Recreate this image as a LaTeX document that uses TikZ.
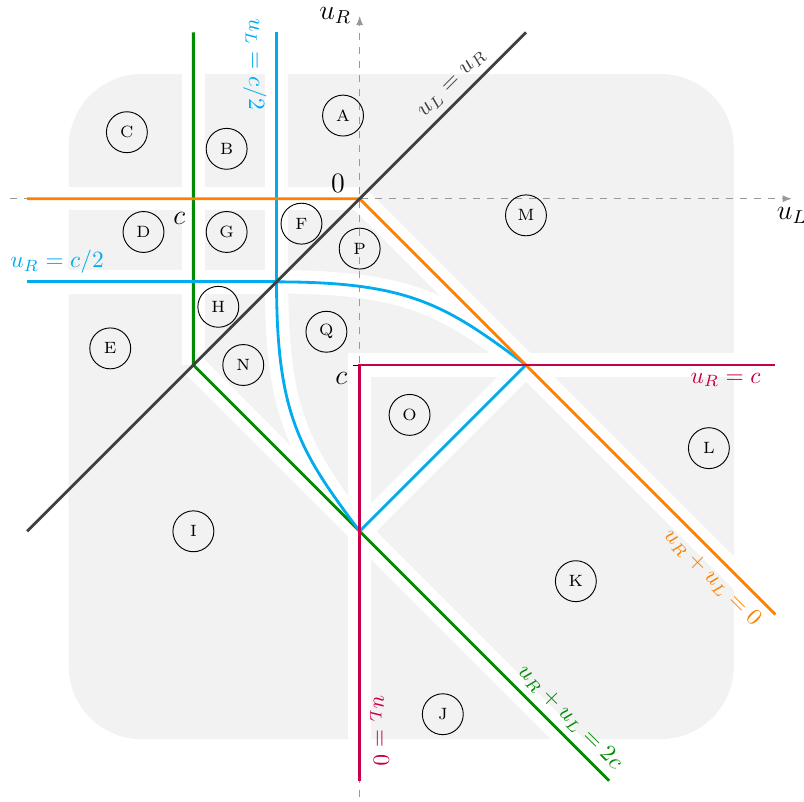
\documentclass[tikz,border=0pt]{standalone}
\usetikzlibrary{arrows.meta}

\definecolor{lineblue}{RGB}{0,172,238}
\definecolor{linegreen}{RGB}{0,140,0}
\definecolor{lineorange}{RGB}{255,128,0}
\definecolor{linemagenta}{RGB}{200,0,75}

\begin{document}
\begin{tikzpicture}[x=2.5cm, y=2.5cm]
        \tikzstyle{region_node} = [shape = circle, draw = black, thin, minimum size=17.5pt, inner sep=0pt, font=\scriptsize]
        \tikzstyle{white_gap} = [draw = white, line width=10pt]
        \tikzstyle{bound_line} = [very thick]
        \tikzstyle{axis_line} = [black!40, dashed, semithick, -{Latex[length=4pt, width=3pt]}]

        \useasboundingbox (-2.163, -3.627) rectangle (2.672, 1.195);

        \fill[gray!10, rounded corners=1.1cm] (-1.75, -3.25) rectangle (2.25, 0.75);

        \coordinate (o) at (0, 0);
        \coordinate (h) at (-0.5, -0.5);
        \coordinate (g) at (-1, -1);
        \coordinate (m) at (0, -1);
        \coordinate (r) at (1, -1);
        \coordinate (b) at (0, -2);

        \coordinate (g_top) at (-1, 1);
        \coordinate (g_end) at (1.5, -3.5);
        \coordinate (h_top) at (-0.5, 1);
        \coordinate (h_left) at (-2, -0.5);
        \coordinate (o_left) at (-2, 0);
        \coordinate (o_end) at (2.5, -2.5);
        \coordinate (m_right) at (2.5, -1);
        \coordinate (m_end) at (0, -3.5);
        \coordinate (d_low) at (-2, -2);
        \coordinate (d_high) at (1, 1);

        \coordinate (ax_l) at (-2.1, 0);
        \coordinate (ax_r) at (2.6, 0);
        \coordinate (ax_b) at (0, -3.6);
        \coordinate (ax_t) at (0, 1.1);

        \draw[white_gap] (g_top) -- (g);
        \draw[white_gap] (g) -- (g_end);
        \draw[white_gap] (h_top) -- (h);
        \draw[white_gap] (h_left) -- (h);
        \draw[white_gap] (o_left) -- (o);
        \draw[white_gap] (o) -- (o_end);
        \draw[white_gap] (m_right) -- (m) -- (m_end);
        \draw[white_gap] (h) .. controls (0.3, -0.5) and (0.52, -0.64) .. (r);
        \draw[white_gap] (h) .. controls (-0.5, -1.3) and (-0.36, -1.52) .. (b);
        \draw[white_gap] (r) -- (b);

        \draw[axis_line] (ax_l) -- (ax_r) node[below, black] (ul_label) {\large $u_L$};
        \draw[axis_line] (ax_b) -- (ax_t) node[left, black] (ur_label) {\large $u_R$};
        \draw[thin] (m) -- ++(-0.04, 0);

        \draw[bound_line, linegreen] (g_top) -- (g) -- (g_end);
        \draw[bound_line, lineblue] (h_top) -- (h) -- (h_left);
        \draw[bound_line, lineblue] (h) .. controls (0.3, -0.5) and (0.52, -0.64) .. (r) -- (b)
          .. controls (-0.36, -1.52) and (-0.5, -1.3) .. (h);
        \draw[bound_line, lineorange] (o_left) -- (o) -- (o_end);
        \draw[bound_line, linemagenta] (m_right) -- (m) -- (m_end);
        \draw[bound_line, black!75] (d_low) -- (d_high);

        \node at (-0.13, 0.09) (zero_label) {\large $0$};

        \node at (-1.085, -0.12) (c_left) {\large $c$};

        \node at (-0.11, -1.08) (c_low) {\large $c$};

        \node[lineblue, rotate=-90] at (-0.63, 0.81) (blue_v) {$u_L = c/2$};

        \node[lineblue] at (-1.82, -0.38) (blue_h) {$u_R = c/2$};

        \node[black!75, rotate=45] at (0.56, 0.69) (diag_label) {$u_L = u_R$};

        \node[linemagenta] at (2.2, -1.09) (mag_h) {$u_R = c$};

        \node[linemagenta, rotate=-90] at (0.12, -3.2) (mag_v) {$u_L = 0$};

        \node[lineorange, rotate=-45] at (2.12, -2.28) (orange_label) {$u_R + u_L = 0$};

        \node[linegreen, rotate=-45] at (1.264, -3.12) (green_label) {$u_R + u_L = 2c$};

        \node[region_node] at (-0.1, 0.5) (reg_a) {A};

        \node[region_node] at (-0.8, 0.3) (reg_b) {B};

        \node[region_node] at (-1.4, 0.4) (reg_c) {C};

        \node[region_node] at (-1.3, -0.2) (reg_d) {D};

        \node[region_node] at (-1.5, -0.9) (reg_e) {E};

        \node[region_node] at (-0.35, -0.15) (reg_f) {F};

        \node[region_node] at (-0.8, -0.2) (reg_g) {G};

        \node[region_node] at (-0.85, -0.65) (reg_h) {H};

        \node[region_node] at (-1, -2) (reg_i) {I};

        \node[region_node] at (0.5, -3.1) (reg_j) {J};

        \node[region_node] at (1.3, -2.3) (reg_k) {K};

        \node[region_node] at (2.1, -1.5) (reg_l) {L};

        \node[region_node] at (1, -0.1) (reg_m) {M};

        \node[region_node] at (-0.7, -1) (reg_n) {N};

        \node[region_node] at (0.3, -1.3) (reg_o) {O};

        \node[region_node] at (0, -0.3) (reg_p) {P};

        \node[region_node] at (-0.2, -0.8) (reg_q) {Q};
      \end{tikzpicture}
\end{document}
